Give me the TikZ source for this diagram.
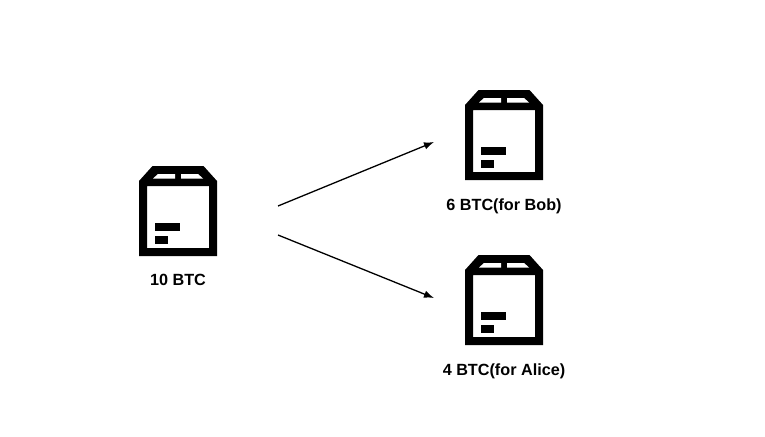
\documentclass[tikz,border=0pt]{standalone}
\usepackage{fontspec}
\setmainfont{Liberation Sans}
\usetikzlibrary{positioning, arrows.meta}

\begin{document}
\begin{tikzpicture}[
    x=1pt, y=1pt,
    font=\fontsize{16.2}{18}\selectfont\bfseries,
    crate/.style={
        rectangle, minimum width=78pt, minimum height=90pt, inner sep=0pt, outer sep=0pt,
        path picture={
            \begin{scope}[shift={(path picture bounding box.center)}]
                \fill[black, even odd rule] (-39,-45) -- (-39,30) -- (-25.5,45) -- (25.5,45) -- (39,30) -- (39,-45) -- cycle
                    (-31,-37) rectangle (31,25);
                \fill[white] (-25,32.5) -- (-20,37) -- (-3,37) -- (-3,32.5) -- cycle;
                \fill[white] (25,32.5) -- (20,37) -- (3,37) -- (3,32.5) -- cycle;
                \fill[black] (-22.7,-20) rectangle (2,-12.3);
                \fill[black] (-22.7,-32.7) rectangle (-10.3,-24.7);
            \end{scope}
        }
    },
    amount/.style={inner sep=0pt, outer sep=0pt, text=black},
    arrow/.style={-{Latex[length=10pt, width=7.5pt]}, line width=1.3pt, black},
    node distance=18.5pt and 248pt,
]

\useasboundingbox (0,0) rectangle (765,-436);
\fill[white] (0,0) rectangle (765,-436);

% --- INPUT (LEFT) ---
\node[crate] (src) at (178,-211) {};
\node[amount, below=of src] (srclabel) {10 BTC};

% --- OUTPUTS (RIGHT) ---
\node[crate, right=of src, yshift=76pt] (bob) {};
\node[amount, below=of bob] (boblabel) {6 BTC(for Bob)};

\node[crate, below=75pt of bob] (alice) {};
\node[amount, below=of alice] (alicelabel) {4 BTC(for Alice)};

% Arrows from the input to each output
\draw[arrow] ([xshift=61pt, yshift=5pt]src.east) -- ([xshift=-31pt, yshift=-7pt]bob.west);
\draw[arrow] ([xshift=61pt, yshift=-24pt]src.east) -- ([xshift=-31pt, yshift=2pt]alice.west);

\end{tikzpicture}
\end{document}
